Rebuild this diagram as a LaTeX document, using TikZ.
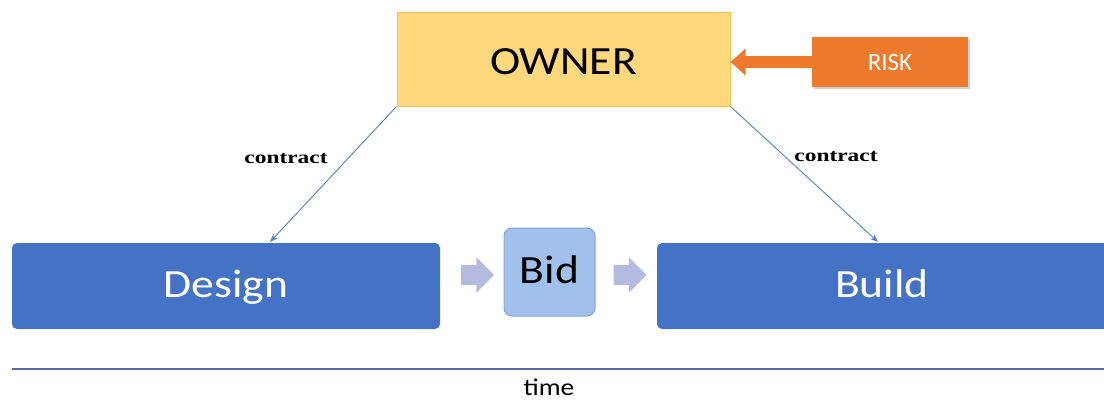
\documentclass[tikz,border=0pt]{standalone}
\usepackage{fontspec}
\setmainfont{Carlito}
\newfontfamily\widesans[FakeStretch=1.14]{Carlito}
\newfontfamily\wideserif[FakeStretch=1.3]{Liberation Serif}
\usetikzlibrary{arrows.meta,shapes.arrows,shadows}
\definecolor{ownerfill}{HTML}{FFD77C}
\definecolor{ownerline}{HTML}{F2C14E}
\definecolor{riskfill}{HTML}{EE7A2E}
\definecolor{phase}{HTML}{4472C4}
\definecolor{bidfill}{HTML}{A2C0EC}
\definecolor{bidline}{HTML}{86A5D3}
\definecolor{chev}{HTML}{B3BCDF}
\definecolor{link}{HTML}{5A7CC4}
\definecolor{axis}{HTML}{5B6AAE}
\tikzset{
  biglabel/.style={font=\widesans\fontsize{40}{42}\selectfont, text depth=0pt},
  phasebox/.style={biglabel, draw=none, fill=phase, rounded corners=5pt, text=white,
    text height=22pt},
  chevron/.style={single arrow, fill=chev, draw=none, minimum height=33pt,
    inner xsep=0pt, inner ysep=10pt, single arrow head extend=7.5pt},
  contractline/.style={draw=link, line width=0.9pt, -{Stealth[length=8pt,width=6pt]}},
  contractlabel/.style={font=\wideserif\bfseries\fontsize{18}{20}\selectfont, anchor=base}
}
\begin{document}
\begin{tikzpicture}[x=1pt,y=-1pt]
\useasboundingbox (0,0) rectangle (1104,400);
% owner box
\node[biglabel, draw=ownerline, fill=ownerfill, line width=1pt, minimum width=333pt,
  minimum height=94pt, text height=30pt] (owner) at (563.5,59) {OWNER};
% risk box and its arrow
\node[fill=riskfill, drop shadow={shadow xshift=2pt,shadow yshift=-2pt,opacity=0.35},
  minimum width=156pt, minimum height=50pt, text=white, text height=16pt, text depth=0pt,
  font=\fontsize{25}{27}\selectfont] (risk) at (890,62) {RISK};
\draw[riskfill, line width=12pt, -{Triangle[length=15pt,width=26pt]}]
  (risk.west) -- (owner.east |- risk.west);
% phase boxes
\node[phasebox, minimum width=428pt, minimum height=86pt] (design) at (226,286) {Design};
\node[biglabel, draw=bidline, fill=bidfill, rounded corners=8pt, line width=1pt,
  minimum width=91pt, minimum height=88pt, text height=22pt] (bid) at (549.5,272) {Bid};
\node[phasebox, minimum width=460pt, minimum height=86pt, text width=0pt] (build) at (887,286) {};
\node[biglabel, text=white, text height=22pt] (buildtxt) at (882,286) {Build};
% chevrons between phases
\node[chevron] (c1) at (472.5,275) {};
\node[chevron] (c2) at (625,275) {};
% contracts
\coordinate (dtip) at (270,242);
\coordinate (btip) at (878,242);
\draw[contractline] (owner.south west) -- (dtip);
\draw[contractline] (owner.south east) -- (btip);
\node[contractlabel] (cl) at (286,163) {contract};
\node[contractlabel] (cr) at (836,161) {contract};
% time axis
\coordinate (t0) at (12,369);
\coordinate (t1) at (1104,369);
\draw[axis, line width=1.6pt] (t0) -- (t1);
\node[font=\widesans\fontsize{24}{26}\selectfont, anchor=base, inner sep=1pt] (time) at (549,395) {time};
\end{tikzpicture}
\end{document}
